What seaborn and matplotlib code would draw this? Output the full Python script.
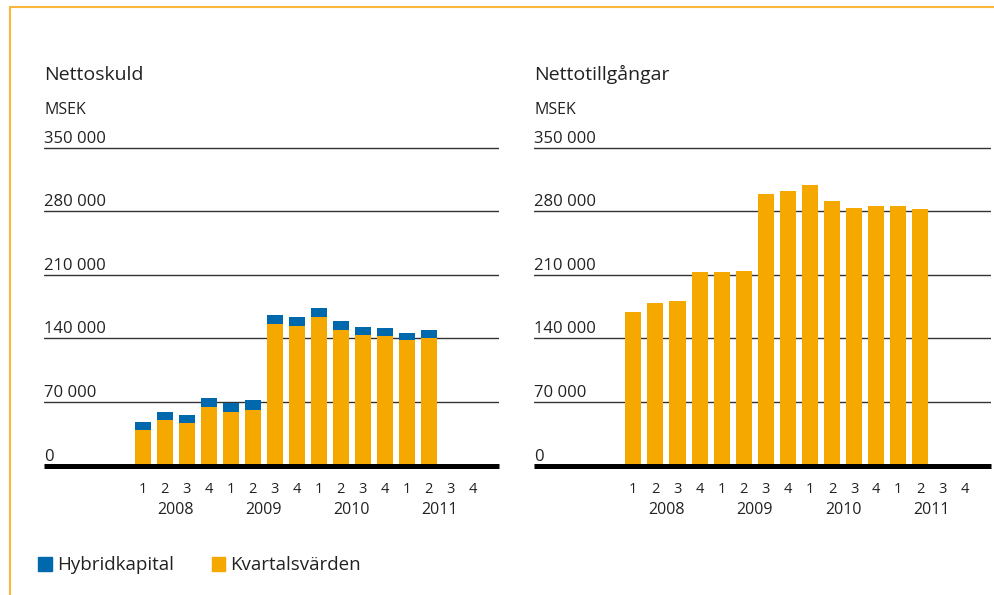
import matplotlib
matplotlib.use("Agg")
import matplotlib.pyplot as plt
import matplotlib.transforms as mtransforms
from matplotlib.lines import Line2D
from matplotlib.patches import Patch
import pandas as pd
import seaborn as sns


sns.set_theme(style="white")
plt.rcParams["font.family"] = ["Open Sans", "DejaVu Sans"]

# data (MSEK)
years = ["2008", "2009", "2010", "2011"]
quarters = ["1", "2", "3", "4"]
kvartal_skuld = [39000, 50600, 47300, 64900, 59400, 61600, 156300,
                 154100, 164000, 149700, 144200, 143100, 138600, 140900]
hybrid_skuld = [8800, 8800, 8800, 9900, 9900, 11000, 9900,
                9900, 9900, 9900, 8800, 8800, 7800, 8800]
netto_tillgangar = [168600, 178600, 180800, 212800, 212800, 213900, 299000,
                    302300, 309000, 291300, 283500, 285800, 285800, 282400]
y_ticks = [0, 70000, 140000, 210000, 280000, 350000]

ORANGE = "#F5A800"
BLUE = "#0068AC"
TEXT = "#222222"

periods = [f"{y} Q{q}" for y in years for q in quarters]
n = len(kvartal_skuld)
df = pd.DataFrame({
    "period": periods[:n],
    "kvartal": kvartal_skuld,
    "total": [k + h for k, h in zip(kvartal_skuld, hybrid_skuld)],
    "tillgangar": netto_tillgangar,
})

fig = plt.figure(figsize=(9.94, 5.95), dpi=100)
W, H = 994, 595
ax_left = fig.add_axes([44 / W, (H - 465.6) / H, 455 / W, 319.8 / H])
ax_right = fig.add_axes([534 / W, (H - 465.6) / H, 457 / W, 319.8 / H])

bar_kw = dict(order=periods, width=0.73, saturation=1, errorbar=None, linewidth=0)
sns.barplot(data=df, x="period", y="total", color=BLUE, ax=ax_left, **bar_kw)
sns.barplot(data=df, x="period", y="kvartal", color=ORANGE, ax=ax_left, **bar_kw)
sns.barplot(data=df, x="period", y="tillgangar", color=ORANGE, ax=ax_right, **bar_kw)

for ax, title in [(ax_left, "Nettoskuld"), (ax_right, "Nettotillgångar")]:
    ax.set_xlim(-4.5, 16.2)
    ax.set_ylim(0, 352000)
    ax.set_xlabel("")
    ax.set_ylabel("")
    sns.despine(ax=ax, left=True, bottom=True)
    ax.set_axisbelow(True)
    ax.set_yticks(y_ticks)
    ax.set_yticklabels([])
    ax.yaxis.grid(True, color="#333333", linewidth=1.0)
    ax.xaxis.grid(False)
    ax.set_xticks(range(len(periods)))
    ax.set_xticklabels(quarters * len(years))
    ax.tick_params(axis="both", length=0)
    ax.tick_params(axis="x", labelsize=10.5, colors=TEXT, pad=12)
    ax.axhline(0, color="black", linewidth=3.6, clip_on=False, zorder=5,
               solid_capstyle="butt")

    label_tr = mtransforms.offset_copy(ax.get_yaxis_transform(), fig=fig,
                                       y=5, units="dots")
    for v in y_ticks:
        ax.text(0, v, f"{v:,}".replace(",", " "), transform=label_tr,
                ha="left", va="baseline", fontsize=12, color=TEXT)

    for i, y in enumerate(years):
        ax.text(i * 4 + 1.5, -0.151, y, transform=ax.get_xaxis_transform(),
                ha="center", va="baseline", fontsize=11.5, color=TEXT)

    x0 = ax.get_position().x0
    fig.text(x0, 1 - 80 / H, title, ha="left", va="baseline",
             fontsize=14, color=TEXT)
    fig.text(x0, 1 - 114 / H, "MSEK", ha="left", va="baseline",
             fontsize=11.5, color=TEXT)

# orange frame along top and left edge
frame = "#F9B83C"
fig.add_artist(Line2D([10 / W, 1], [1 - 7 / H, 1 - 7 / H], color=frame,
                      linewidth=1.5, transform=fig.transFigure))
fig.add_artist(Line2D([10 / W, 10 / W], [0, 1 - 7 / H], color=frame,
                      linewidth=1.5, transform=fig.transFigure))

handles = [Patch(color=BLUE, label="Hybridkapital"),
           Patch(color=ORANGE, label="Kvartalsvärden")]
fig.legend(handles=handles, loc="center left",
           bbox_to_anchor=(38 / W, 1 - 565.5 / H), ncol=2, frameon=False,
           fontsize=13.5, handlelength=0.72, handleheight=0.72,
           handletextpad=0.3, columnspacing=2.0, borderpad=0,
           borderaxespad=0, labelcolor=TEXT)

fig.savefig("out.png", dpi=100)
plt.close(fig)
